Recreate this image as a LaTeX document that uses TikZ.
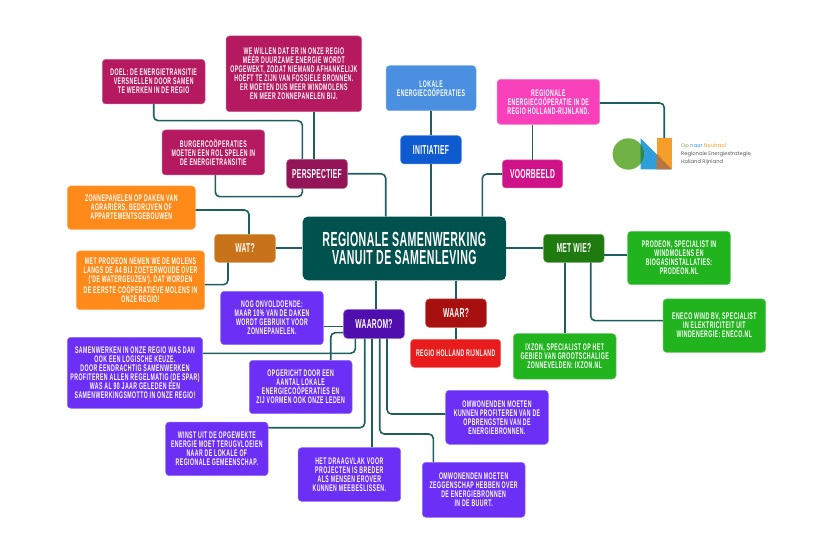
\documentclass[tikz,border=0pt]{standalone}
\usepackage{fontspec}
\setmainfont{Liberation Sans}[FakeStretch=0.52,LetterSpace=2]
\newfontfamily\leaffont{Liberation Sans}[FakeStretch=0.54,LetterSpace=4.5]
\newfontfamily\logofont{Poppins}
\definecolor{linec}{HTML}{1F5F60}
\definecolor{ctitle}{HTML}{00524F}
\definecolor{ccrim}{HTML}{B5195F}
\definecolor{cpersp}{HTML}{941458}
\definecolor{corange}{HTML}{FF8A1A}
\definecolor{cwat}{HTML}{C8731A}
\definecolor{cblue}{HTML}{4A8FE0}
\definecolor{cinit}{HTML}{0E5AD1}
\definecolor{cpink}{HTML}{F740BA}
\definecolor{cvoor}{HTML}{D01289}
\definecolor{cpurple}{HTML}{6B2FF5}
\definecolor{cwaarom}{HTML}{4F0FAE}
\definecolor{cred}{HTML}{E81C1C}
\definecolor{cwaar}{HTML}{A80F0F}
\definecolor{cgreen}{HTML}{22B41F}
\definecolor{cwie}{HTML}{1F7A10}
\definecolor{lgreen}{HTML}{70B244}
\definecolor{lblue}{HTML}{2E9FDB}
\definecolor{lorange}{HTML}{F59E2A}
\definecolor{lbrown}{HTML}{B8763E}
\definecolor{ldgreen}{HTML}{2F8A3C}
\tikzset{
 basebox/.style={rectangle,rounded corners=3.5pt,inner sep=0pt,align=center,text=white,line width=.5pt},
 leaf/.style={basebox,fill=#1,draw=#1!70!white,font=\leaffont\fontsize{9.6}{9}\selectfont\bfseries},
 hub/.style={basebox,fill=#1,draw=#1!70!white,font=\fontsize{13}{12}\selectfont\bfseries},
 titlebox/.style={basebox,fill=ctitle,rounded corners=5pt,font=\fontsize{20.4}{18}\selectfont\bfseries},
 conn/.style={draw=linec,line width=1.6pt,rounded corners=4.5pt},
 logotext/.style={inner sep=0pt,anchor=west,font=\logofont\fontsize{5.2}{6}\selectfont}
}
\newcommand\bx[7]{%
 \pgfmathsetmacro\bcx{(#2+#4)/2}\pgfmathsetmacro\bcy{(#3+#5)/2}%
 \pgfmathsetmacro\bw{#4-#2}\pgfmathsetmacro\bh{#5-#3}%
 \node[#6,minimum width=\bw pt,minimum height=\bh pt] (#1) at (\bcx,\bcy) {#7};}
\begin{document}
\begin{tikzpicture}[x=1pt,y=-1pt]
\useasboundingbox (0,0) rectangle (830,553);
\fill[white] (0,0) rectangle (830,553);
% title and hubs
\bx{title}{302.7}{216.7}{506}{280.3}{titlebox}{REGIONALE SAMENWERKING\\VANUIT DE SAMENLEVING}
\bx{persp}{286.7}{159.3}{347.3}{188.3}{hub=cpersp}{PERSPECTIEF}
\bx{init}{400.7}{135.7}{461.3}{164}{hub=cinit}{INITIATIEF}
\bx{voor}{502.3}{160}{562.7}{188}{hub=cvoor}{VOORBEELD}
\bx{wat}{214.7}{234.3}{275.3}{262.3}{hub=cwat}{WAT?}
\bx{wie}{543.7}{234.3}{604}{262.3}{hub=cwie}{MET WIE?}
\bx{waar}{425.7}{299}{486.3}{327.3}{hub=cwaar}{WAAR?}
\bx{waarom}{343.7}{309.7}{404.3}{338.3}{hub=cwaarom}{WAAROM?}
% leaves
\bx{doel}{102.3}{59.3}{205}{104}{leaf=ccrim}{DOEL: DE ENERGIETRANSITIE\\VERSNELLEN DOOR SAMEN\\TE WERKEN IN DE REGIO}
\bx{willen}{226}{36}{361.7}{111.7}{leaf=ccrim}{WE WILLEN DAT ER IN ONZE REGIO\\MÉÉR DUURZAME ENERGIE WORDT\\OPGEWEKT, ZODAT NIEMAND AFHANKELIJK\\HOEFT TE ZIJN VAN FOSSIELE BRONNEN.\\ER MOETEN DUS MEER WINDMOLENS\\EN MEER ZONNEPANELEN BIJ.}
\bx{burger}{162}{130}{264.7}{175}{leaf=ccrim}{BURGERCOÖPERATIES\\MOETEN EEN ROL SPELEN IN\\DE ENERGIETRANSITIE}
\bx{lokale}{386}{65.7}{476}{110.7}{leaf=cblue}{LOKALE\\ENERGIECOÖPERATIES}
\bx{regionale}{497}{79.3}{599.7}{124.3}{leaf=cpink}{REGIONALE\\ENERGIECOÖPERATIE IN DE\\REGIO HOLLAND-RIJNLAND.}
\bx{zon}{67.3}{186}{195.3}{229.3}{leaf=corange}{ZONNEPANELEN OP DAKEN VAN\\AGRARIËRS, BEDRIJVEN OF\\APPARTEMENTSGEBOUWEN}
\bx{prodeon}{76.3}{251}{204.7}{309.7}{leaf=corange}{MET PRODEON NEMEN WE DE MOLENS\\LANGS DE A4 BIJ ZOETERWOUDE OVER\\('DE WATERGEUZEN'). DAT WORDEN\\DE EERSTE COÖPERATIEVE MOLENS IN\\ONZE REGIO!}
\bx{nog}{220.7}{291.3}{323.3}{344.7}{leaf=cpurple}{NOG ONVOLDOENDE:\\MAAR 10\% VAN DE DAKEN\\WORDT GEBRUIKT VOOR\\ZONNEPANELEN.}
\bx{samen}{67.3}{337.3}{202.7}{408.3}{leaf=cpurple}{SAMENWERKEN IN ONZE REGIO WAS DAN\\OOK EEN LOGISCHE KEUZE.\\DOOR EENDRACHTIG SAMENWERKEN\\PROFITEREN ALLEN REGELMATIG (DE SPAR)\\WAS AL 90 JAAR GELEDEN EEN\\SAMENWERKINGSMOTTO IN ONZE REGIO!}
\bx{opgericht}{249.3}{360.3}{352}{413.7}{leaf=cpurple}{OPGERICHT DOOR EEN\\AANTAL LOKALE\\ENERGIECOÖPERATIES EN\\ZIJ VORMEN OOK ONZE LEDEN}
\bx{winst}{165.7}{422}{268}{475.7}{leaf=cpurple}{WINST UIT DE OPGEWEKTE\\ENERGIE MOET TERUGVLOEIEN\\NAAR DE LOKALE OF\\REGIONALE GEMEENSCHAP.}
\bx{draag}{298}{447.7}{400.7}{501.3}{leaf=cpurple}{HET DRAAGVLAK VOOR\\PROJECTEN IS BREDER\\ALS MENSEN EROVER\\KUNNEN MEEBESLISSEN.}
\bx{omw}{445.7}{390.3}{548.3}{444.3}{leaf=cpurple}{OMWONENDEN MOETEN\\KUNNEN PROFITEREN VAN DE\\OPBRENGSTEN VAN DE\\ENERGIEBRONNEN.}
\bx{omz}{422.3}{462.3}{525}{517.3}{leaf=cpurple}{OMWONENDEN MOETEN\\ZEGGENSCHAP HEBBEN OVER\\DE ENERGIEBRONNEN\\IN DE BUURT.}
\bx{regio}{410.7}{339.3}{500.7}{367.3}{leaf=cred}{REGIO HOLLAND RIJNLAND}
\bx{pro}{627.7}{231.3}{730.3}{284.7}{leaf=cgreen}{PRODEON, SPECIALIST IN\\WINDMOLENS EN\\BIOGASINSTALLATIES:\\PRODEON.NL}
\bx{eneco}{663}{299}{765.7}{352.3}{leaf=cgreen}{ENECO WIND BV, SPECIALIST\\IN ELEKTRICITEIT UIT\\WINDENERGIE: ENECO.NL}
\bx{ixzon}{513.3}{333.7}{616}{379}{leaf=cgreen}{IXZON, SPECIALIST OP HET\\GEBIED VAN GROOTSCHALIGE\\ZONNEVELDEN: IXZON.NL}
% logo
\fill[lgreen] (628.3,154) circle (15.7);
\fill[lblue] (640.7,138.3) -- (640.7,169.3) -- (671.7,169.3) -- cycle;
\begin{scope}
 \clip (640.7,138.3) -- (640.7,169.3) -- (671.7,169.3) -- cycle;
 \fill[ldgreen] (628.3,154) circle (15.7);
\end{scope}
\node[rectangle,fill=lorange,inner sep=0pt,minimum width=15pt,minimum height=31pt] (logo) at (664.2,153.8) {};
\fill[lbrown] (656.7,153.8) -- (656.7,169.3) -- (671.7,169.3) -- cycle;
\node[logotext] (lg1) at (681,146) {\textcolor{lgreen}{Op} \textcolor{lblue}{naar} \textcolor{lorange}{Neutraal}};
\node[logotext,text=black!65] (lg2) at (681,154.5) {Regionale Energiestrategie};
\node[logotext,text=black!65] (lg3) at (681,162.5) {Holland Rijnland};
% connectors
\draw[conn] (153.7,0 |- doel.south) |- (302.3,120.7) -- (302.3,0 |- persp.north);
\draw[conn] (314,0 |- willen.south) -- (314,0 |- persp.north);
\draw[conn] (215.3,0 |- burger.south) |- (302.3,196.7) -- (302.3,0 |- persp.south);
\draw[conn] (persp.east) -| (385.7,0 |- title.north);
\draw[conn] (init.north) -- (lokale.south);
\draw[conn] (431,0 |- init.south) -- (431,0 |- title.north);
\draw[conn] (532.3,0 |- voor.north) -- (532.3,0 |- regionale.south);
\draw[conn] (voor.west) -| (482.3,0 |- title.north);
\draw[conn] (regionale.east |- 0,103) -| (logo.north);
\draw[conn] (zon.east |- 0,210) -| (249,0 |- wat.north);
\draw[conn] (prodeon.east |- 0,284.7) -| (228,0 |- wat.south);
\draw[conn] (wat.east) -- (title.west |- wat.east);
\draw[conn] (title.east |- wie.west) -- (wie.west);
\draw[conn] (wie.east |- 0,255) -- (pro.west |- 0,255);
\draw[conn] (590.7,0 |- wie.south) |- (eneco.west |- 0,320.7);
\draw[conn] (564.7,0 |- wie.south) -- (564.7,0 |- ixzon.north);
\draw[conn] (456,0 |- title.south) -- (456,0 |- waar.north);
\draw[conn] (456,0 |- waar.south) -- (456,0 |- regio.north);
\draw[conn] (375.7,0 |- title.south) -- (375.7,0 |- waarom.north);
\draw[conn] (nog.east |- 0,326.7) -- (waarom.west |- 0,326.7);
\draw[conn] (samen.east |- 0,353.3) -| (355.3,0 |- waarom.south);
\draw[conn] (330.7,0 |- opgericht.north) |- (waarom.west |- 0,332.7);
\draw[conn] (winst.east |- 0,427.7) -| (364.7,0 |- waarom.south);
\draw[conn] (372,0 |- waarom.south) -- (372,0 |- draag.north);
\draw[conn] (387,0 |- waarom.south) |- (omw.west |- 0,414);
\draw[conn] (379.7,0 |- waarom.south) |- (433.3,434) -- (433.3,0 |- omz.north);
\end{tikzpicture}
\end{document}
